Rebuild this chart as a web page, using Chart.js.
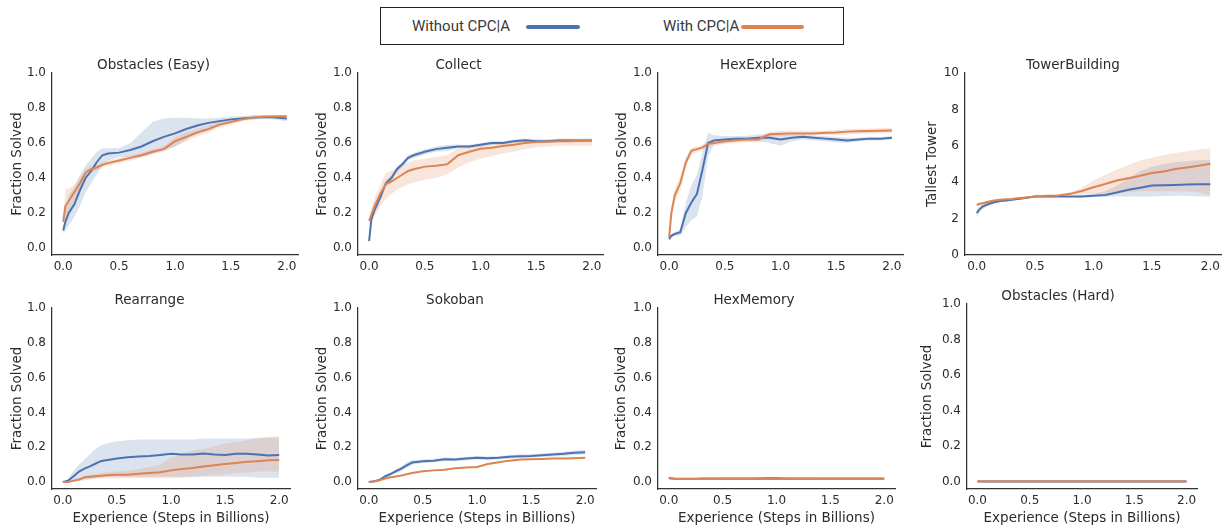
<!DOCTYPE html>
<html>
<head>
<meta charset="utf-8">
<script src="https://cdn.jsdelivr.net/npm/chart.js@4.4.0/dist/chart.umd.min.js"></script>
<style>
    body { margin: 0; width: 1222px; height: 525px; background: #fff; overflow: hidden; position: relative; }
    canvas { position: absolute; }
    #legend { position: absolute; left: 380px; top: 7px; width: 462px; height: 36px; border: 1.3px solid #222; font-family: Roboto, "Open Sans", sans-serif; font-size: 15px; color: #3a3a3a; }
    #legend .lbl { position: absolute; top: 9px; line-height: 18px; }
    #legend .swatch { position: absolute; top: 17px; height: 4px; border-radius: 2px; }
</style>
</head>
<body>
<div id="legend">
    <span class="lbl" style="left:31px">Without CPC|A</span>
    <span class="swatch" style="left:145px;width:54px;background:#4c72b0"></span>
    <span class="lbl" style="left:282px">With CPC|A</span>
    <span class="swatch" style="left:360px;width:63px;background:#dd8452"></span>
</div>
<script>
// Shared x positions (billions of steps)
const steps = [0, 0.02, 0.05, 0.1, 0.15, 0.2, 0.25, 0.3, 0.35, 0.4, 0.5, 0.6, 0.7, 0.8, 0.9, 1.0, 1.1, 1.2, 1.3, 1.4, 1.5, 1.6, 1.7, 1.8, 1.9, 2.0];
const xTicks = [0, 0.5, 1.0, 1.5, 2.0];
const fracTicks = [0, 0.2, 0.4, 0.6, 0.8, 1.0];
const towerTicks = [0, 2, 4, 6, 8, 10];

// Obstacles (Easy)
const obsEasyBlue    = [0.10,0.15,0.20,0.25,0.33,0.40,0.44,0.49,0.53,0.54,0.545,0.56,0.58,0.61,0.635,0.655,0.68,0.70,0.715,0.725,0.735,0.74,0.745,0.748,0.745,0.74];
const obsEasyBlueLo  = [0.08,0.10,0.13,0.18,0.24,0.32,0.37,0.42,0.47,0.50,0.52,0.52,0.52,0.54,0.56,0.58,0.62,0.66,0.69,0.70,0.72,0.73,0.735,0.74,0.735,0.725];
const obsEasyBlueHi  = [0.12,0.22,0.30,0.35,0.42,0.47,0.51,0.55,0.57,0.57,0.57,0.60,0.66,0.72,0.74,0.745,0.745,0.74,0.74,0.745,0.75,0.755,0.76,0.76,0.76,0.755];
const obsEasyOrange   = [0.15,0.24,0.27,0.32,0.37,0.43,0.45,0.46,0.475,0.485,0.50,0.515,0.53,0.55,0.565,0.61,0.635,0.66,0.68,0.705,0.72,0.735,0.745,0.75,0.752,0.753];
const obsEasyOrangeLo = [0.13,0.17,0.21,0.27,0.33,0.40,0.43,0.445,0.46,0.47,0.485,0.50,0.515,0.535,0.55,0.58,0.61,0.64,0.66,0.69,0.705,0.725,0.735,0.74,0.745,0.745];
const obsEasyOrangeHi = [0.17,0.34,0.34,0.36,0.40,0.45,0.47,0.475,0.49,0.50,0.515,0.53,0.545,0.565,0.58,0.635,0.66,0.68,0.70,0.72,0.735,0.745,0.755,0.76,0.76,0.762];

// Collect
const collectBlue    = [0.04,0.165,0.22,0.29,0.37,0.40,0.45,0.48,0.515,0.53,0.55,0.565,0.573,0.58,0.58,0.59,0.60,0.60,0.61,0.615,0.61,0.61,0.615,0.615,0.615,0.615];
const collectBlueLo  = [0.03,0.15,0.20,0.27,0.35,0.385,0.435,0.465,0.50,0.515,0.535,0.55,0.555,0.57,0.57,0.58,0.59,0.59,0.60,0.605,0.60,0.60,0.605,0.605,0.605,0.605];
const collectBlueHi  = [0.05,0.18,0.24,0.31,0.39,0.415,0.465,0.495,0.53,0.545,0.565,0.58,0.59,0.59,0.59,0.60,0.61,0.61,0.62,0.625,0.62,0.62,0.625,0.625,0.625,0.625];
const collectOrange   = [0.155,0.19,0.24,0.31,0.365,0.38,0.40,0.42,0.44,0.45,0.465,0.47,0.478,0.53,0.55,0.567,0.573,0.583,0.59,0.60,0.605,0.607,0.61,0.61,0.613,0.615];
const collectOrangeLo = [0.13,0.14,0.18,0.24,0.28,0.31,0.33,0.35,0.365,0.375,0.39,0.40,0.42,0.46,0.49,0.51,0.525,0.54,0.55,0.565,0.575,0.58,0.585,0.585,0.585,0.585];
const collectOrangeHi = [0.18,0.23,0.29,0.36,0.43,0.44,0.46,0.48,0.49,0.50,0.51,0.52,0.53,0.57,0.58,0.59,0.595,0.60,0.61,0.615,0.62,0.62,0.625,0.625,0.625,0.625];

// HexExplore
const hexExpBlue    = [0.05,0.07,0.08,0.09,0.20,0.26,0.31,0.45,0.60,0.615,0.62,0.625,0.625,0.63,0.63,0.62,0.63,0.635,0.63,0.625,0.62,0.615,0.62,0.625,0.625,0.63];
const hexExpBlueLo  = [0.04,0.06,0.07,0.07,0.12,0.16,0.18,0.30,0.52,0.59,0.60,0.61,0.61,0.61,0.60,0.585,0.61,0.62,0.615,0.61,0.605,0.60,0.61,0.615,0.615,0.62];
const hexExpBlueHi  = [0.06,0.08,0.09,0.11,0.26,0.36,0.42,0.55,0.66,0.645,0.64,0.64,0.64,0.65,0.65,0.655,0.645,0.645,0.64,0.64,0.635,0.63,0.63,0.635,0.635,0.64];
const hexExpOrange   = [0.06,0.20,0.30,0.37,0.49,0.555,0.565,0.575,0.595,0.60,0.61,0.615,0.62,0.62,0.65,0.653,0.655,0.655,0.655,0.658,0.66,0.665,0.667,0.668,0.67,0.672];
const hexExpOrangeLo = [0.05,0.17,0.26,0.33,0.46,0.535,0.55,0.56,0.58,0.585,0.595,0.60,0.605,0.605,0.635,0.64,0.64,0.64,0.64,0.645,0.645,0.65,0.652,0.653,0.655,0.657];
const hexExpOrangeHi = [0.07,0.23,0.34,0.41,0.52,0.575,0.58,0.59,0.61,0.615,0.625,0.63,0.635,0.635,0.665,0.668,0.67,0.67,0.67,0.672,0.675,0.68,0.682,0.683,0.685,0.687];

// TowerBuilding
const towerBlue    = [2.3,2.48,2.66,2.8,2.9,2.97,3.0,3.03,3.08,3.12,3.21,3.21,3.21,3.21,3.21,3.25,3.3,3.43,3.58,3.7,3.82,3.83,3.85,3.87,3.89,3.89];
const towerBlueLo  = [2.1,2.3,2.5,2.7,2.82,2.9,2.94,2.98,3.03,3.07,3.16,3.17,3.17,3.17,3.16,3.18,3.2,3.22,3.22,3.22,3.22,3.24,3.25,3.25,3.22,3.2];
const towerBlueHi  = [2.5,2.65,2.8,2.9,2.98,3.04,3.06,3.08,3.13,3.17,3.26,3.25,3.25,3.25,3.28,3.36,3.5,3.8,4.2,4.6,4.85,5.0,5.1,5.15,5.2,5.2];
const towerOrange   = [2.75,2.8,2.84,2.93,2.99,3.03,3.06,3.08,3.12,3.15,3.21,3.25,3.27,3.36,3.52,3.72,3.9,4.09,4.22,4.35,4.5,4.59,4.73,4.81,4.9,5.01];
const towerOrangeLo = [2.65,2.72,2.78,2.87,2.94,2.98,3.01,3.03,3.07,3.1,3.16,3.2,3.22,3.28,3.32,3.35,3.38,3.4,3.45,3.5,3.5,3.5,3.5,3.5,3.45,3.3];
const towerOrangeHi = [2.85,2.88,2.9,2.99,3.04,3.08,3.11,3.13,3.17,3.2,3.26,3.3,3.33,3.45,3.7,4.1,4.4,4.7,4.95,5.2,5.35,5.5,5.6,5.7,5.8,5.85];

// Rearrange
const rearrBlue    = [0.0,0.003,0.008,0.033,0.06,0.077,0.09,0.105,0.12,0.125,0.135,0.143,0.147,0.15,0.156,0.162,0.158,0.158,0.164,0.158,0.156,0.162,0.162,0.158,0.152,0.156];
const rearrBlueLo  = [0.0,0.0,0.0,0.0,0.005,0.01,0.015,0.02,0.025,0.03,0.03,0.03,0.03,0.03,0.03,0.03,0.03,0.03,0.03,0.03,0.03,0.03,0.03,0.025,0.025,0.025];
const rearrBlueHi  = [0.0,0.008,0.02,0.065,0.1,0.13,0.16,0.19,0.21,0.22,0.235,0.24,0.245,0.245,0.245,0.245,0.245,0.245,0.25,0.25,0.25,0.25,0.25,0.255,0.255,0.255];
const rearrOrange   = [0.0,0.0,0.0,0.008,0.015,0.027,0.03,0.033,0.036,0.039,0.042,0.042,0.048,0.052,0.056,0.067,0.075,0.081,0.089,0.096,0.104,0.11,0.116,0.12,0.125,0.127];
const rearrOrangeLo = [0.0,0.0,0.0,0.004,0.01,0.018,0.02,0.02,0.02,0.02,0.02,0.02,0.022,0.022,0.022,0.022,0.025,0.03,0.035,0.04,0.045,0.05,0.055,0.06,0.06,0.06];
const rearrOrangeHi = [0.0,0.0,0.002,0.012,0.02,0.035,0.04,0.045,0.05,0.055,0.06,0.065,0.075,0.085,0.1,0.14,0.16,0.18,0.19,0.205,0.22,0.23,0.24,0.25,0.26,0.265];

// Sokoban
const sokoBlue    = [0.0,0.002,0.004,0.013,0.033,0.046,0.062,0.077,0.096,0.112,0.12,0.123,0.131,0.129,0.135,0.139,0.137,0.139,0.145,0.148,0.15,0.154,0.158,0.162,0.168,0.171];
const sokoBlueLo  = [0.0,0.0,0.002,0.008,0.026,0.038,0.052,0.064,0.08,0.1,0.11,0.113,0.121,0.119,0.125,0.129,0.127,0.129,0.135,0.138,0.14,0.144,0.147,0.15,0.155,0.158];
const sokoBlueHi  = [0.0,0.004,0.006,0.018,0.04,0.054,0.072,0.09,0.112,0.125,0.13,0.133,0.141,0.139,0.145,0.149,0.147,0.149,0.155,0.158,0.16,0.164,0.169,0.174,0.181,0.184];
const sokoOrange   = [0.0,0.001,0.003,0.01,0.02,0.027,0.032,0.037,0.045,0.052,0.062,0.067,0.071,0.079,0.083,0.087,0.104,0.114,0.123,0.129,0.131,0.133,0.135,0.135,0.137,0.139];
const sokoOrangeLo = [0.0,0.0,0.0,0.006,0.016,0.023,0.028,0.033,0.041,0.048,0.058,0.063,0.067,0.075,0.079,0.083,0.1,0.11,0.119,0.125,0.127,0.129,0.131,0.131,0.133,0.135];
const sokoOrangeHi = [0.0,0.003,0.006,0.014,0.024,0.031,0.036,0.041,0.049,0.056,0.066,0.071,0.075,0.083,0.087,0.091,0.108,0.118,0.127,0.133,0.135,0.137,0.139,0.139,0.141,0.143];

// HexMemory
const hexMemBlue    = [0.025,0.022,0.02,0.019,0.019,0.019,0.019,0.02,0.02,0.02,0.021,0.021,0.021,0.021,0.022,0.022,0.021,0.021,0.021,0.021,0.02,0.02,0.02,0.02,0.02,0.02];
const hexMemBlueLo  = [0.021,0.019,0.017,0.016,0.016,0.016,0.016,0.017,0.017,0.017,0.018,0.018,0.018,0.018,0.019,0.019,0.018,0.018,0.018,0.018,0.017,0.017,0.017,0.017,0.017,0.017];
const hexMemBlueHi  = [0.029,0.025,0.023,0.022,0.022,0.022,0.022,0.023,0.023,0.023,0.024,0.024,0.024,0.024,0.025,0.025,0.024,0.024,0.024,0.024,0.023,0.023,0.023,0.023,0.023,0.023];
const hexMemOrange   = [0.022,0.02,0.018,0.017,0.017,0.017,0.017,0.017,0.018,0.018,0.018,0.018,0.018,0.018,0.018,0.018,0.018,0.018,0.018,0.018,0.018,0.018,0.018,0.018,0.018,0.018];
const hexMemOrangeLo = [0.019,0.018,0.016,0.015,0.015,0.015,0.015,0.015,0.016,0.016,0.016,0.016,0.016,0.016,0.016,0.016,0.016,0.016,0.016,0.016,0.016,0.016,0.016,0.016,0.016,0.016];
const hexMemOrangeHi = [0.025,0.022,0.02,0.019,0.019,0.019,0.019,0.019,0.02,0.02,0.02,0.02,0.02,0.02,0.02,0.02,0.02,0.02,0.02,0.02,0.02,0.02,0.02,0.02,0.02,0.02];

// Obstacles (Hard)
const obsHardBlue    = [0.002,0.002,0.002,0.002,0.002,0.002,0.002,0.002,0.002,0.002,0.002,0.002,0.002,0.002,0.002,0.002,0.002,0.002,0.002,0.002,0.002,0.002,0.002,0.002,0.002,0.002];
const obsHardBlueLo  = [0.0,0.0,0.0,0.0,0.0,0.0,0.0,0.0,0.0,0.0,0.0,0.0,0.0,0.0,0.0,0.0,0.0,0.0,0.0,0.0,0.0,0.0,0.0,0.0,0.0,0.0];
const obsHardBlueHi  = [0.004,0.004,0.004,0.004,0.004,0.004,0.004,0.004,0.004,0.004,0.004,0.004,0.004,0.004,0.004,0.004,0.004,0.004,0.004,0.004,0.004,0.004,0.004,0.004,0.004,0.004];
const obsHardOrange   = [0.003,0.003,0.003,0.003,0.003,0.003,0.003,0.003,0.003,0.003,0.003,0.003,0.003,0.003,0.003,0.003,0.003,0.003,0.003,0.003,0.003,0.003,0.003,0.003,0.003,0.003];
const obsHardOrangeLo = [0.001,0.001,0.001,0.001,0.001,0.001,0.001,0.001,0.001,0.001,0.001,0.001,0.001,0.001,0.001,0.001,0.001,0.001,0.001,0.001,0.001,0.001,0.001,0.001,0.001,0.001];
const obsHardOrangeHi = [0.005,0.005,0.005,0.005,0.005,0.005,0.005,0.005,0.005,0.005,0.005,0.005,0.005,0.005,0.005,0.005,0.005,0.005,0.005,0.005,0.005,0.005,0.005,0.005,0.005,0.005];

const BLUE = '#4c72b0';
const ORANGE = '#dd8452';
const BLUE_BAND = 'rgba(76, 114, 176, 0.2)';
const ORANGE_BAND = 'rgba(221, 132, 82, 0.2)';
const TEXT = '#2b2b2b';
const SPINE = '#333333';
const FONT = '"DejaVu Sans", sans-serif';

// Panel layout: plot box edges in page pixels
const panels = [
    { title: 'Obstacles (Easy)', ylabel: 'Fraction Solved', l: 52, t: 73, r: 298, b: 255, wy: 43, tower: false, xTitle: false,
      blue: obsEasyBlue, blueLo: obsEasyBlueLo, blueHi: obsEasyBlueHi, orange: obsEasyOrange, orangeLo: obsEasyOrangeLo, orangeHi: obsEasyOrangeHi },
    { title: 'Collect', ylabel: 'Fraction Solved', l: 358, t: 73, r: 603, b: 255, wy: 44, tower: false, xTitle: false,
      blue: collectBlue, blueLo: collectBlueLo, blueHi: collectBlueHi, orange: collectOrange, orangeLo: collectOrangeLo, orangeHi: collectOrangeHi },
    { title: 'HexExplore', ylabel: 'Fraction Solved', l: 658, t: 73, r: 903, b: 255, wy: 44, tower: false, xTitle: false,
      blue: hexExpBlue, blueLo: hexExpBlueLo, blueHi: hexExpBlueHi, orange: hexExpOrange, orangeLo: hexExpOrangeLo, orangeHi: hexExpOrangeHi },
    { title: 'TowerBuilding', ylabel: 'Tallest Tower', l: 965, t: 73, r: 1222, b: 255, wy: 41, tower: true, xTitle: false,
      blue: towerBlue, blueLo: towerBlueLo, blueHi: towerBlueHi, orange: towerOrange, orangeLo: towerOrangeLo, orangeHi: towerOrangeHi },
    { title: 'Rearrange', ylabel: 'Fraction Solved', l: 52, t: 308, r: 290, b: 489, wy: 43, tower: false, xTitle: true,
      blue: rearrBlue, blueLo: rearrBlueLo, blueHi: rearrBlueHi, orange: rearrOrange, orangeLo: rearrOrangeLo, orangeHi: rearrOrangeHi },
    { title: 'Sokoban', ylabel: 'Fraction Solved', l: 358, t: 308, r: 596, b: 489, wy: 44, tower: false, xTitle: true,
      blue: sokoBlue, blueLo: sokoBlueLo, blueHi: sokoBlueHi, orange: sokoOrange, orangeLo: sokoOrangeLo, orangeHi: sokoOrangeHi },
    { title: 'HexMemory', ylabel: 'Fraction Solved', l: 658, t: 308, r: 895, b: 489, wy: 45, tower: false, xTitle: true,
      blue: hexMemBlue, blueLo: hexMemBlueLo, blueHi: hexMemBlueHi, orange: hexMemOrange, orangeLo: hexMemOrangeLo, orangeHi: hexMemOrangeHi },
    { title: 'Obstacles (Hard)', ylabel: 'Fraction Solved', l: 967, t: 304, r: 1197, b: 489, wy: 48, tower: false, xTitle: true,
      blue: obsHardBlue, blueLo: obsHardBlueLo, blueHi: obsHardBlueHi, orange: obsHardOrange, orangeLo: obsHardOrangeLo, orangeHi: obsHardOrangeHi }
];

function toPoints(values) {
    return steps.map((x, i) => ({ x: x, y: values[i] }));
}

function meanLine(values, color) {
    return { data: toPoints(values), borderColor: color, borderWidth: 2, pointRadius: 0, fill: false };
}

function bandEdge(values, fillColor, fill) {
    return { data: toPoints(values), borderWidth: 0, borderColor: 'rgba(0,0,0,0)', pointRadius: 0, backgroundColor: fillColor, fill: fill };
}

function makePanel(p) {
    const titleH = 16;
    const xAxisH = p.xTitle ? 38 : 20;
    const padR = 12;
    const canvas = document.createElement('canvas');
    canvas.width = (p.r - p.l) + p.wy + padR;
    canvas.height = titleH + (p.b - p.t) + xAxisH;
    canvas.style.left = (p.l - p.wy) + 'px';
    canvas.style.top = (p.t - titleH) + 'px';
    document.body.appendChild(canvas);

    const yTicks = p.tower ? towerTicks : fracTicks;

    new Chart(canvas, {
        type: 'line',
        data: {
            datasets: [
                meanLine(p.orange, ORANGE),
                meanLine(p.blue, BLUE),
                bandEdge(p.orangeHi, ORANGE_BAND, '+1'),
                bandEdge(p.orangeLo, ORANGE_BAND, false),
                bandEdge(p.blueHi, BLUE_BAND, '+1'),
                bandEdge(p.blueLo, BLUE_BAND, false)
            ]
        },
        options: {
            responsive: false,
            animation: false,
            layout: { padding: { right: padR } },
            elements: { line: { tension: 0 } },
            plugins: {
                legend: { display: false },
                tooltip: { enabled: false },
                title: {
                    display: true,
                    text: p.title,
                    color: TEXT,
                    font: { family: FONT, size: 13.5, weight: 'normal', lineHeight: '15px' },
                    padding: { top: 1, bottom: 0 }
                }
            },
            scales: {
                x: {
                    type: 'linear',
                    min: -0.1,
                    max: 2.1,
                    grid: { display: false, drawTicks: false },
                    border: { display: true, color: SPINE, width: 1.25 },
                    ticks: {
                        color: TEXT,
                        font: { family: FONT, size: 12 },
                        padding: 5,
                        maxRotation: 0,
                        autoSkip: false,
                        callback: v => v.toFixed(1)
                    },
                    afterBuildTicks: scale => { scale.ticks = xTicks.map(v => ({ value: v })); },
                    afterFit: scale => { scale.height = xAxisH; },
                    title: {
                        display: p.xTitle,
                        text: 'Experience (Steps in Billions)',
                        color: TEXT,
                        font: { family: FONT, size: 13.5 },
                        padding: 0
                    }
                },
                y: {
                    type: 'linear',
                    min: p.tower ? 0 : -0.04,
                    max: p.tower ? 10 : 1.0,
                    grid: { display: false, drawTicks: false },
                    border: { display: true, color: SPINE, width: 1.25 },
                    ticks: {
                        color: TEXT,
                        font: { family: FONT, size: 12 },
                        padding: 6,
                        autoSkip: false,
                        callback: v => p.tower ? String(v) : v.toFixed(1)
                    },
                    afterBuildTicks: scale => { scale.ticks = yTicks.map(v => ({ value: v })); },
                    afterFit: scale => { scale.width = p.wy; },
                    title: {
                        display: true,
                        text: p.ylabel,
                        color: TEXT,
                        font: { family: FONT, size: 13.5 },
                        padding: 0
                    }
                }
            }
        }
    });
}

panels.forEach(makePanel);
</script>
</body>
</html>
